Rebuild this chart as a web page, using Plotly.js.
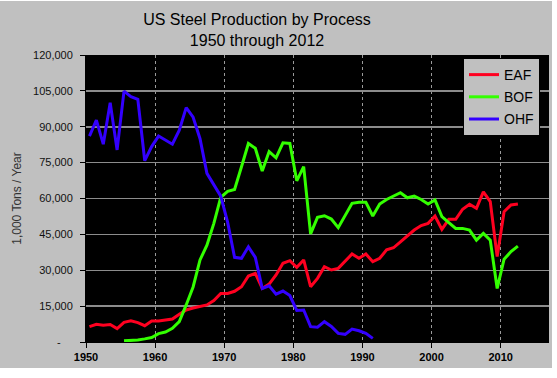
<!DOCTYPE html>
<html><head><meta charset="utf-8">
<script src="https://cdn.plot.ly/plotly-3.0.1.min.js"></script>
<style>html,body{margin:0;padding:0;background:#fff;} #chart{position:absolute;left:0;top:1px;width:552px;height:367px;}</style>
</head><body><div id="chart"></div><script>
var years = [1950,1951,1952,1953,1954,1955,1956,1957,1958,1959,
  1960,1961,1962,1963,1964,1965,1966,1967,1968,1969,
  1970,1971,1972,1973,1974,1975,1976,1977,1978,1979,
  1980,1981,1982,1983,1984,1985,1986,1987,1988,1989,
  1990,1991,1992,1993,1994,1995,1996,1997,1998,1999,
  2000,2001,2002,2003,2004,2005,2006,2007,2008,2009,
  2010,2011,2012];
var eaf = [6400,7400,7000,7300,5600,8200,8900,8100,6800,8800,
  8800,9100,9600,11600,13400,14200,14800,15500,17300,20300,
  20300,21200,23100,27600,28700,22400,24200,28000,32900,34000,
  31200,34300,23100,26600,31500,30100,30800,33600,36800,35000,
  36800,33600,35000,38500,39400,41900,44300,46800,48700,49600,
  52700,47100,51300,51300,55500,57600,55900,62800,58700,35700,
  54500,57300,57700];
var bof = [null,null,null,null,null,500,600,800,1300,1900,
  3500,4200,5700,8500,15500,23000,34300,40500,49600,60500,
  63000,63800,73300,83000,81000,71500,79600,77000,83300,83000,
  67400,73300,45200,52100,52800,51400,47800,52800,58000,58400,
  58400,52700,57700,59600,61000,62400,60300,61000,59600,57700,
  59400,52400,49900,47500,47500,46800,42600,45400,42600,22400,
  34600,37800,40100];
var ohf = [86100,92800,82700,100000,80300,104900,102600,101500,75800,81700,
  86100,84500,82700,88600,98000,94000,85000,70500,65800,61000,
  50000,35400,35000,39800,35400,22400,23500,20000,21300,19400,
  13200,13400,6400,6200,8500,6500,3600,3200,5400,4700,
  3600,1500];
var xTickLabels = ['1950','1960','1970','1980','1990','2000','2010'];
var yTickValues = [0,15000,30000,45000,60000,75000,90000,105000,120000];
var yTickLabels = ['-\u00a0\u00a0\u00a0\u00a0','15,000','30,000','45,000','60,000','75,000','90,000','105,000','120,000'];

// category boundaries (Excel-style: points sit at category centres)
var xTickVals = xTickLabels.map(function(s){ return Number(s) - 0.5; });

var traces = [
  {x: years, y: eaf, name: 'EAF', type: 'scatter', mode: 'lines', line: {color: '#ff0020', width: 3}, legendgroup: 'a'},
  {x: years, y: bof, name: 'BOF', type: 'scatter', mode: 'lines', line: {color: '#33ff00', width: 3}, legendgroup: 'b'},
  {x: years.slice(0, ohf.length), y: ohf, name: 'OHF', type: 'scatter', mode: 'lines', line: {color: '#3300ff', width: 3}, legendgroup: 'c'}
];

var layout = {
  width: 552, height: 367,
  margin: {l: 86, r: 3, t: 54, b: 26, pad: 0},
  paper_bgcolor: '#c0c0c0',
  plot_bgcolor: '#000000',
  font: {family: '"Liberation Sans", Arial, sans-serif', color: '#000'},
  title: {
    text: 'US Steel Production by Process<br>1950 through 2012',
    font: {size: 16, color: '#000'},
    x: 0.4656, xref: 'container', xanchor: 'center',
    y: 0.935, yref: 'container', yanchor: 'top'
  },
  xaxis: {
    range: [1949.5, 2016.5],
    tickmode: 'array', tickvals: xTickVals, ticktext: xTickLabels,
    ticks: 'outside', ticklen: 5, tickcolor: '#000',
    showline: true, linecolor: '#000', linewidth: 1,
    showgrid: true, gridcolor: '#9a9a9a', gridwidth: 1, griddash: '3px,3px',
    tickfont: {size: 11, color: '#000', weight: 'bold'},
    zeroline: false, fixedrange: true
  },
  yaxis: {
    range: [0, 120000],
    tickmode: 'array', tickvals: yTickValues, ticktext: yTickLabels,
    ticks: 'outside', ticklen: 5, tickcolor: '#000',
    ticklabelstandoff: 5,
    showline: true, linecolor: '#000', linewidth: 1,
    showgrid: true, gridcolor: '#8c8c8c', gridwidth: 1.5,
    tickfont: {size: 11, color: '#111'},
    title: {text: '1,000 Tons / Year', font: {size: 12, color: '#333'}, standoff: 8},
    zeroline: false, fixedrange: true
  },
  showlegend: true,
  legend: {
    x: 0.8143, y: 0.9895, xanchor: 'left', yanchor: 'top',
    bgcolor: '#c0c0c0', bordercolor: '#000', borderwidth: 1,
    font: {size: 14, color: '#000'},
    tracegroupgap: 1, itemwidth: 30
  }
};

Plotly.newPlot('chart', traces, layout, {displayModeBar: false, staticPlot: true});
</script></body></html>
